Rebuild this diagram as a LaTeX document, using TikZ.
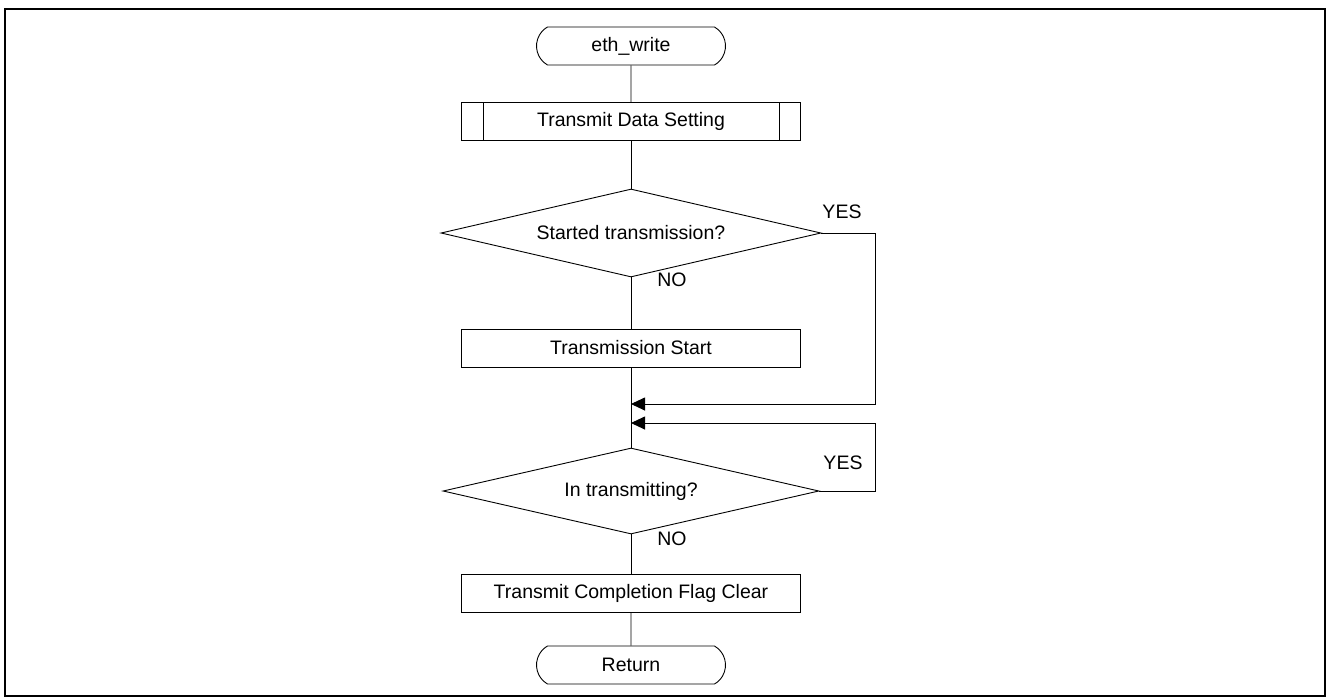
\documentclass[tikz,border=0pt]{standalone}
\usepackage{fontspec}
\setmainfont{Liberation Sans}
\usetikzlibrary{shapes.geometric,shapes.misc,arrows.meta,calc}
\tikzset{
  base/.style={draw=black, line width=0.9pt, inner sep=0pt, font=\fontsize{19.5}{23}\selectfont},
  term/.style={base, rounded rectangle, rounded rectangle arc length=120, minimum width=189pt, minimum height=38pt},
  proc/.style={base, rectangle, minimum width=339pt, minimum height=38pt},
  dec/.style={base, diamond, aspect=4.3, minimum width=380pt, minimum height=88pt},
  lbl/.style={inner sep=0pt, font=\fontsize{19.5}{23}\selectfont},
  flow/.style={line width=0.9pt},
  arr/.style={flow, -{Triangle[length=14pt,width=13pt]}},
}
\begin{document}
\begin{tikzpicture}[x=1pt,y=-1pt]
\useasboundingbox (0,0) rectangle (1328,697);
\draw[line width=2.2pt] (5,9) rectangle (1325,696);

\node[term] (start) at (631,46) {eth\_write};
\node[proc] (tds) at (631,121.5) {Transmit Data Setting};
\draw[flow] ($(tds.north west)+(22,0)$) -- ($(tds.south west)+(22,0)$);
\draw[flow] ($(tds.north east)+(-22,0)$) -- ($(tds.south east)+(-22,0)$);
\node[dec] (d1) at (631,233) {Started transmission?};
\node[proc] (ts) at (631,348) {Transmission Start};
\coordinate (j1) at (631,404);
\coordinate (j2) at (631,423);
\node[dec, minimum width=376pt, minimum height=86pt] (d2) at (631,491) {In transmitting?};
\node[proc] (tc) at (631,593) {Transmit Completion Flag Clear};
\node[term] (ret) at (631,665) {Return};

\node[lbl] (yes1) at (842,212) {YES};
\node[lbl] (no1) at (672,280) {NO};
\node[lbl] (yes2) at (843,463) {YES};
\node[lbl] (no2) at (672,539) {NO};

\draw[flow] (start) -- (tds);
\draw[flow] (tds) -- (d1);
\draw[flow] (d1.south) -- (ts.north);
\draw[flow] (ts.south) -- (d2.north);
\draw[arr] (d1.east) -- (875,233) -- (875,404) -- (j1);
\draw[arr] (d2.east) -- (875,491) -- (875,423) -- (j2);
\draw[flow] (d2.south) -- (tc.north);
\draw[flow] (tc) -- (ret);
\end{tikzpicture}
\end{document}
